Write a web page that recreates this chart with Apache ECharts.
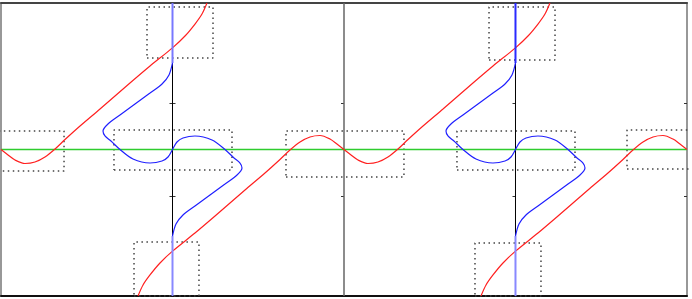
<!DOCTYPE html>
<html><head><meta charset="utf-8">
<script src="https://cdn.jsdelivr.net/npm/echarts@6/dist/echarts.min.js"></script>
<style>html,body{margin:0;padding:0;background:#fff}#c{width:692px;height:299px}</style>
</head><body><div id="c"></div>
<script>
const PI = Math.PI;
const xRange = [-PI, 3 * PI];
const yRange = [-PI, PI];
const yTickValues = [-1, 1];
// positions (in x data units) of the vertical axes that carry ticks
const axisXs = [-PI, 0, PI, 2 * PI, 3 * PI];

// red curve branches [x, y]
const redLeftA = [[-3.1416,0],[-3.013,-0.118],[-2.885,-0.225],[-2.702,-0.300],[-2.519,-0.268],[-2.336,-0.161],[-2.152,0.011],[-1.969,0.214],[-1.694,0.504],[-1.328,0.869],[-0.779,1.426],[-0.412,1.791],[0,2.18],[0.229,2.434],[0.412,2.691],[0.540,2.906],[0.632,3.142]];
const redLeftB = [[-0.632,-3.142],[-0.540,-2.906],[-0.412,-2.691],[-0.229,-2.434],[0,-2.18],[0.412,-1.791],[0.779,-1.426],[1.328,-0.869],[1.694,-0.504],[1.969,-0.214],[2.152,-0.011],[2.336,0.161],[2.519,0.268],[2.702,0.300],[2.885,0.225],[3.013,0.118],[3.1416,0]];
const redRightA = [[3.1416,0],[3.270,-0.118],[3.398,-0.225],[3.581,-0.300],[3.764,-0.268],[3.947,-0.161],[4.131,0.011],[4.314,0.214],[4.589,0.504],[4.955,0.869],[5.504,1.426],[5.871,1.791],[6.283,2.18],[6.512,2.434],[6.695,2.691],[6.823,2.906],[6.915,3.142]];
const redRightB = [[5.651,-3.142],[5.743,-2.906],[5.871,-2.691],[6.054,-2.434],[6.283,-2.18],[6.695,-1.791],[7.062,-1.426],[7.611,-0.869],[7.977,-0.504],[8.252,-0.214],[8.435,-0.011],[8.619,0.161],[8.802,0.268],[8.985,0.300],[9.168,0.225],[9.296,0.118],[9.4248,0]];

// blue curve [x, y]
const blueLeft = [[0,1.855],[-0.064,1.598],[-0.192,1.405],[-0.412,1.212],[-0.687,0.976],[-0.962,0.740],[-1.182,0.547],[-1.273,0.397],[-1.237,0.290],[-1.127,0.182],[-0.962,0],[-0.724,-0.204],[-0.412,-0.290],[-0.192,-0.247],[-0.082,-0.161],[0,0],[0.082,0.161],[0.192,0.247],[0.412,0.290],[0.724,0.204],[0.962,0],[1.127,-0.182],[1.237,-0.290],[1.273,-0.397],[1.182,-0.547],[0.962,-0.740],[0.687,-0.976],[0.412,-1.212],[0.192,-1.405],[0.064,-1.598],[0,-1.855]];
const blueRight = [[6.283,1.855],[6.219,1.598],[6.091,1.405],[5.871,1.212],[5.596,0.976],[5.321,0.740],[5.101,0.547],[5.010,0.397],[5.046,0.290],[5.156,0.182],[5.321,0],[5.559,-0.204],[5.871,-0.290],[6.091,-0.247],[6.201,-0.161],[6.283,0],[6.365,0.161],[6.475,0.247],[6.695,0.290],[7.007,0.204],[7.245,0],[7.410,-0.182],[7.520,-0.290],[7.556,-0.397],[7.465,-0.547],[7.245,-0.740],[6.970,-0.976],[6.695,-1.212],[6.475,-1.405],[6.347,-1.598],[6.283,-1.855]];
const blueStems = [
  [[0,3.1416],[0,1.855]], [[0,-1.855],[0,-3.1416]],
  [[6.283,3.1416],[6.283,1.855]], [[6.283,-1.855],[6.283,-3.1416]]
];
const blueStemColors = ['#7878ff', '#8888ff', '#2a2aff', '#8888ff'];

// green baseline
const greenLine = [[-3.1416,0],[9.4248,0]];
// black vertical axes
const blackLines = [[[0,-3.1416],[0,3.1416]], [[6.283,-3.1416],[6.283,3.1416]]];
const dividerLine = [[3.1416,-3.1416],[3.1416,3.1416]];

// dotted boxes: [x0, x1, y0, y1]
const boxes = [
  [-0.467, 0.742, 1.962, 3.056],
  [-0.705, 0.485, -3.142, -1.984],
  [-1.072, 1.090, -0.440, 0.418],
  [2.079, 4.240, -0.590, 0.397],
  [-4.300, -1.987, -0.461, 0.397],
  [5.798, 7.007, 1.919, 3.056],
  [5.541, 6.750, -3.142, -2.005],
  [5.211, 7.373, -0.440, 0.397],
  [8.326, 10.49, -0.418, 0.418]
];

const GRID_LEFT = 1, GRID_RIGHT = 5, W = 692;
const plotW = W - GRID_LEFT - GRID_RIGHT;

const series = [];
boxes.forEach(b => {
  series.push({type:'line', data:[[b[0],b[2]],[b[1],b[2]],[b[1],b[3]],[b[0],b[3]],[b[0],b[2]]],
    symbol:'none', clip:true, silent:true,
    lineStyle:{color:'#444', width:1.5, type:[1.5,3.5]}});
});
blackLines.forEach(l => series.push({type:'line', data:l, symbol:'none', lineStyle:{color:'#000', width:1}}));
series.push({type:'line', data:dividerLine, symbol:'none', lineStyle:{color:'#666', width:1.5}});
series.push({type:'line', data:greenLine, symbol:'none', lineStyle:{color:'#2ecc2e', width:1.5}});
[redLeftA, redLeftB, redRightA, redRightB].forEach(d => series.push({type:'line', data:d, symbol:'none', smooth:0.3, clip:true, lineStyle:{color:'#ff2020', width:1.2}}));
blueStems.forEach((d, i) => series.push({type:'line', data:d, symbol:'none', lineStyle:{color:blueStemColors[i], width:2}}));
[blueLeft, blueRight].forEach(d => series.push({type:'line', data:d, symbol:'none', smooth:0.3, clip:true, lineStyle:{color:'#2020ff', width:1.2}}));

// tick-only y axes placed on each vertical line
const yAxes = axisXs.map((ax, i) => {
  const isRight = i === axisXs.length - 1;
  const px = (ax - xRange[0]) / (xRange[1] - xRange[0]) * plotW;
  return {
    type:'value', min:yRange[0], max:yRange[1],
    position: isRight ? 'right' : 'left',
    offset: isRight ? 0 : -px,
    axisLine:{show:false},
    axisTick:{show:true, inside: i === 0 || isRight, length:3, customValues:yTickValues, lineStyle:{color:'#333', width:1}},
    axisLabel:{show:false}, splitLine:{show:false}
  };
});

const chart = echarts.init(document.getElementById('c'));
chart.setOption({
  animation:false,
  backgroundColor:'#fff',
  grid:{left:GRID_LEFT, right:GRID_RIGHT, top:3, bottom:3, show:true, borderColor:'#777', borderWidth:1.5, containLabel:false},
  xAxis:[
    {type:'value', min:xRange[0], max:xRange[1], position:'bottom',
     axisLine:{onZero:false, lineStyle:{color:'#111', width:2}}, axisTick:{show:false}, axisLabel:{show:false}, splitLine:{show:false}},
    {type:'value', min:xRange[0], max:xRange[1], position:'top',
     axisLine:{onZero:false, lineStyle:{color:'#444', width:2}}, axisTick:{show:false}, axisLabel:{show:false}, splitLine:{show:false}}
  ],
  yAxis: yAxes,
  series: series
});
</script>
</body></html>
